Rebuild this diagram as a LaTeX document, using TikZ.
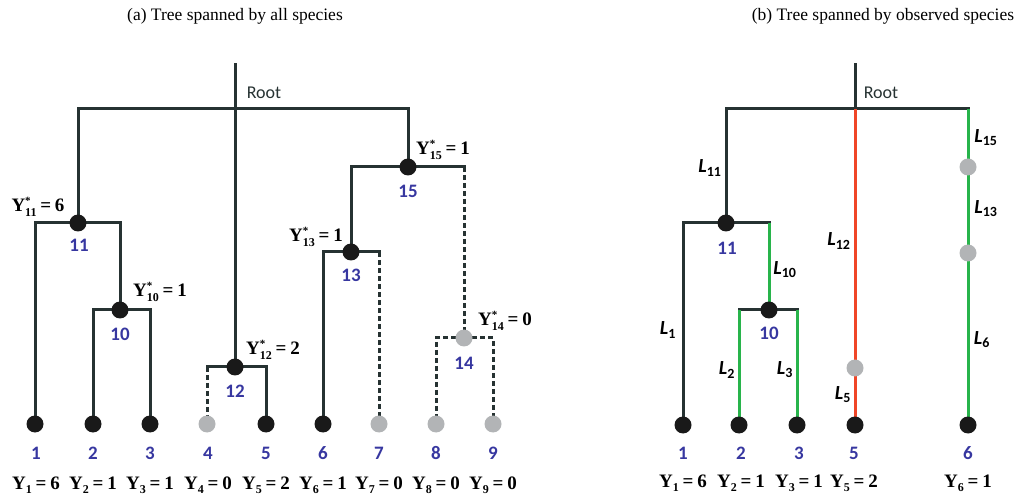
\documentclass[tikz,border=0pt]{standalone}
\usepackage{fontspec}
\setmainfont{Liberation Serif}
\newfontfamily\calfont{Carlito}
\usetikzlibrary{backgrounds}
\definecolor{brc}{RGB}{38,50,50}
\definecolor{dotk}{RGB}{25,25,25}
\definecolor{dotg}{RGB}{178,180,182}
\definecolor{numc}{RGB}{55,55,160}
\definecolor{grnc}{RGB}{40,180,75}
\definecolor{redc}{RGB}{240,70,40}
\newcommand\Ylab[2]{\textbf{Y\raisebox{-0.22em}{\fontsize{12}{12}\selectfont #1}\hspace{0.2em}=\hspace{0.2em}#2}}
\newcommand\Ystar[2]{\textbf{Y\rlap{\raisebox{0.38em}{\fontsize{11}{11}\selectfont *}}\raisebox{-0.28em}{\fontsize{12}{12}\selectfont #1}\hspace{0.2em}=\hspace{0.2em}#2}}
\newcommand\Llab[1]{{\itshape L}\textsubscript{#1}}
\tikzset{
 br/.style={line width=3pt, draw=brc, line cap=rect},
 dsh/.style={line width=3pt, draw=brc, dash pattern=on 5pt off 3pt},
 grn/.style={line width=3pt, draw=grnc},
 rd/.style={line width=3pt, draw=redc},
 obs/.style={circle, fill=dotk, minimum size=17pt, inner sep=0pt},
 unobs/.style={circle, fill=dotg, minimum size=17pt, inner sep=0pt},
 num/.style={font=\calfont\bfseries\fontsize{19}{20}\selectfont, text=numc, inner sep=0pt},
 ylab/.style={font=\fontsize{19}{20}\selectfont, inner sep=0pt},
 ttl/.style={font=\fontsize{17.5}{20}\selectfont, inner sep=0pt},
 rootlab/.style={font=\calfont\fontsize{18}{20}\selectfont, text=brc, inner sep=0pt},
 llab/.style={font=\calfont\bfseries\fontsize{20}{22}\selectfont, inner sep=0pt}
}
\begin{document}
\begin{tikzpicture}[x=1pt,y=-1pt]
\useasboundingbox (0,0) rectangle (1028,502);
% titles
\node[ttl] (ta) at (235,16) {(a) Tree spanned by all species};
\node[ttl] (tb) at (883,16) {(b) Tree spanned by observed species};
% ---------- tree (a) ----------
\coordinate (aroot) at (235,65);
\coordinate (abar) at (235,109);
\node[obs] (a1) at (35,424) {};
\node[obs] (a2) at (93,424) {};
\node[obs] (a3) at (150,424) {};
\node[unobs] (a4) at (207,424) {};
\node[obs] (a5) at (266,424) {};
\node[obs] (a6) at (323,424) {};
\node[unobs] (a7) at (379,424) {};
\node[unobs] (a8) at (436,424) {};
\node[unobs] (a9) at (493,424) {};
\node[obs] (a10) at (120,310) {};
\node[obs] (a11) at (78,223) {};
\node[obs] (a12) at (235,367) {};
\node[obs] (a13) at (351,252) {};
\node[unobs] (a14) at (464,338) {};
\node[obs] (a15) at (408,167) {};
\coordinate (c4) at (a12 -| a4);
\coordinate (c7) at (a13 -| a7);
\coordinate (c14) at (a15 -| a14);
\begin{scope}[on background layer]
\draw[br] (aroot) -- (a12.center);
\draw[br] (a11.center) |- (abar) -| (a15.center);
\draw[br] (a11.center) -| (a1.center);
\draw[br] (a11.center) -| (a10.center);
\draw[br] (a10.center) -| (a2.center);
\draw[br] (a10.center) -| (a3.center);
\draw[br] (a12.center) -- (c4);
\draw[dsh] (c4) -- (a4.center);
\draw[br] (a12.center) -| (a5.center);
\draw[br] (a15.center) -| (a13.center);
\draw[br] (a13.center) -| (a6.center);
\draw[br] (a13.center) -- (c7);
\draw[dsh] (c7) -- (a7.center);
\draw[br] (a15.center) -- (c14);
\draw[dsh] (c14) -- (a14.center);
\draw[dsh] (a14.center) -| (a8.center);
\draw[dsh] (a14.center) -| (a9.center);
\end{scope}
\node[rootlab] (arl) at (264,93) {Root};
% internal numbers
\node[num] (a10n) at (120,334) {10};
\node[num] (a11n) at (79,245) {11};
\node[num] (a12n) at (235,391) {12};
\node[num] (a13n) at (351,275) {13};
\node[num] (a14n) at (464,363) {14};
\node[num] (a15n) at (408,191) {15};
% starred labels
\node[ylab] (a11y) at (38,207) {\Ystar{11}{6}};
\node[ylab] (a10y) at (160,292) {\Ystar{10}{1}};
\node[ylab] (a12y) at (273,350) {\Ystar{12}{2}};
\node[ylab] (a13y) at (316,237) {\Ystar{13}{1}};
\node[ylab] (a14y) at (505,321) {\Ystar{14}{0}};
\node[ylab] (a15y) at (443,150) {\Ystar{15}{1}};
% leaf numbers and values
\foreach \i/\x/\v in {1/36/6,2/93/1,3/150/1,4/208/0,5/266/2,6/323/1,7/379/0,8/436/0,9/493/0}{
  \node[num] (a\i n) at (\x,453) {\i};
  \node[ylab] (a\i y) at (\x,485) {\Ylab{\i}{\v}};
}
% ---------- tree (b) ----------
\coordinate (broot) at (855,65);
\coordinate (bbar) at (855,109);
\coordinate (bbarR) at (968,109);
\node[obs] (b1) at (683,425) {};
\node[obs] (b2) at (739,425) {};
\node[obs] (b3) at (797,425) {};
\node[obs] (b5) at (855,425) {};
\node[obs] (b6) at (968,425) {};
\node[obs] (b10) at (769,310) {};
\node[obs] (b11) at (726,223) {};
\node[unobs] (bg5) at (855,368) {};
\node[unobs] (bg15) at (968,167) {};
\node[unobs] (bg13) at (968,253) {};
\coordinate (d10) at (b11 -| b10);
\coordinate (d2) at (b10 -| b2);
\coordinate (d3) at (b10 -| b3);
\begin{scope}[on background layer]
\draw[br] (broot) -- (bbar);
\draw[br] (b11.center) |- (bbar) -- (bbarR);
\draw[grn] (bbarR) -- (bg15.center) -- (bg13.center) -- (b6.center);
\draw[rd] (bbar) -- (bg5.center) -- (b5.center);
\draw[br] (b11.center) -| (b1.center);
\draw[br] (b11.center) -- (d10);
\draw[grn] (d10) -- (b10.center);
\draw[br] (b10.center) -- (d2);
\draw[grn] (d2) -- (b2.center);
\draw[br] (b10.center) -- (d3);
\draw[grn] (d3) -- (b3.center);
\end{scope}
\node[rootlab] (brl) at (881,93) {Root};
\node[num] (b10n) at (769,333) {10};
\node[num] (b11n) at (727,248) {11};
% branch lengths
\node[llab] (l11) at (710,168) {\Llab{11}};
\node[llab] (l10) at (785,270) {\Llab{10}};
\node[llab] (l1) at (668,330) {\Llab{1}};
\node[llab] (l2) at (727,370) {\Llab{2}};
\node[llab] (l3) at (785,370) {\Llab{3}};
\node[llab] (l12) at (839,241) {\Llab{12}};
\node[llab] (l5) at (843,395) {\Llab{5}};
\node[llab] (l15) at (986,138) {\Llab{15}};
\node[llab] (l13) at (986,209) {\Llab{13}};
\node[llab] (l6) at (982,340) {\Llab{6}};
% leaf numbers and values
\foreach \n/\i/\x/\v in {1/1/683/6,2/2/741/1,3/3/799/1,5/5/854/2,6/6/968/1}{
  \node[num] (b\n n) at (\x,453) {\i};
  \node[ylab] (b\n y) at (\x,483) {\Ylab{\i}{\v}};
}
\end{tikzpicture}
\end{document}
